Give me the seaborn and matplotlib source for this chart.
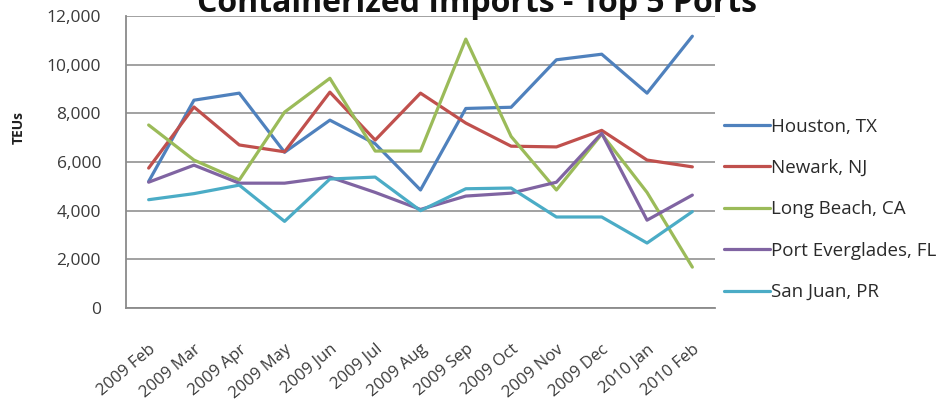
import pandas as pd
import matplotlib.pyplot as plt
import seaborn as sns
from matplotlib.ticker import FuncFormatter

months = ['2009 Feb', '2009 Mar', '2009 Apr', '2009 May', '2009 Jun', '2009 Jul',
          '2009 Aug', '2009 Sep', '2009 Oct', '2009 Nov', '2009 Dec', '2010 Jan', '2010 Feb']

houston = [5200, 8540, 8830, 6400, 7720, 6750, 4850, 8200, 8250, 10200, 10430, 8830, 11170]
newark = [5750, 8260, 6700, 6420, 8870, 6900, 8830, 7600, 6650, 6620, 7300, 6080, 5800]
long_beach = [7520, 6080, 5260, 8050, 9440, 6450, 6450, 11050, 7050, 4850, 7150, 4750, 1680]
port_everglades = [5170, 5870, 5130, 5130, 5380, 4750, 4050, 4600, 4720, 5170, 7180, 3610, 4640]
san_juan = [4450, 4700, 5050, 3560, 5300, 5380, 4000, 4900, 4930, 3740, 3740, 2670, 3960]

ports = ['Houston, TX', 'Newark, NJ', 'Long Beach, CA', 'Port Everglades, FL', 'San Juan, PR']
colors = ['#4F81BD', '#C0504D', '#9BBB59', '#8064A2', '#4BACC6']

series = [houston, newark, long_beach, port_everglades, san_juan]
rows = []
for port, vals in zip(ports, series):
    for i, v in enumerate(vals):
        rows.append({'idx': i, 'TEUs': v, 'Port': port})
df = pd.DataFrame(rows)

sns.set_style('white')
plt.rcParams['font.family'] = ['Open Sans', 'DejaVu Sans']

fig = plt.figure(figsize=(9.44, 4.08), dpi=100)
ax = fig.add_axes([126 / 944, 1 - 308 / 408, 589 / 944, 292 / 408])

sns.lineplot(data=df, x='idx', y='TEUs', hue='Port', palette=colors,
             linewidth=2.3, ax=ax, legend=False)

ax.set_xlim(-0.5, len(months) - 0.5)
ax.set_ylim(0, 12000)
ax.set_yticks(range(0, 12001, 2000))
ax.yaxis.set_major_formatter(FuncFormatter(lambda v, p: f'{int(v):,}'))
ax.set_xticks(range(len(months)))
ax.set_xticklabels(months, rotation=40, ha='right', rotation_mode='anchor',
                   fontsize=12, color='#3a3a3a')
ax.tick_params(axis='y', labelsize=12.5, colors='#3a3a3a', length=0, pad=18)
ax.tick_params(axis='x', length=0, pad=24)
ax.yaxis.grid(True, color='#9a9a9a', linewidth=1.3)
ax.set_axisbelow(True)
for s in ['top', 'right']:
    ax.spines[s].set_visible(False)
for s in ['left', 'bottom']:
    ax.spines[s].set_color('#8a8a8a')
    ax.spines[s].set_linewidth(1.3)

ax.set_xlabel('')
ax.set_ylabel('')
fig.text(19 / 944, 1 - 127 / 408, 'TEUs', rotation=90, ha='center', va='center',
         fontsize=10, fontweight='bold', color='#222222')

# legend on the right
handles = [plt.Line2D([0], [0], color=c, linewidth=2.3) for c in colors]
fig.legend(handles, ports, loc='upper left', bbox_to_anchor=(716 / 944, 1 - 110 / 408),
           frameon=False, fontsize=13.5, handlelength=2.5, handletextpad=0.05,
           labelspacing=1.25, labelcolor='#2a2a2a', borderaxespad=0)

fig.text(477 / 944, 1 - 12 / 408, 'Containerized Imports - Top 5 Ports',
         ha='center', va='baseline', fontsize=23, fontweight='bold', color='#111111')

fig.savefig('out.png', dpi=100, facecolor='white')
